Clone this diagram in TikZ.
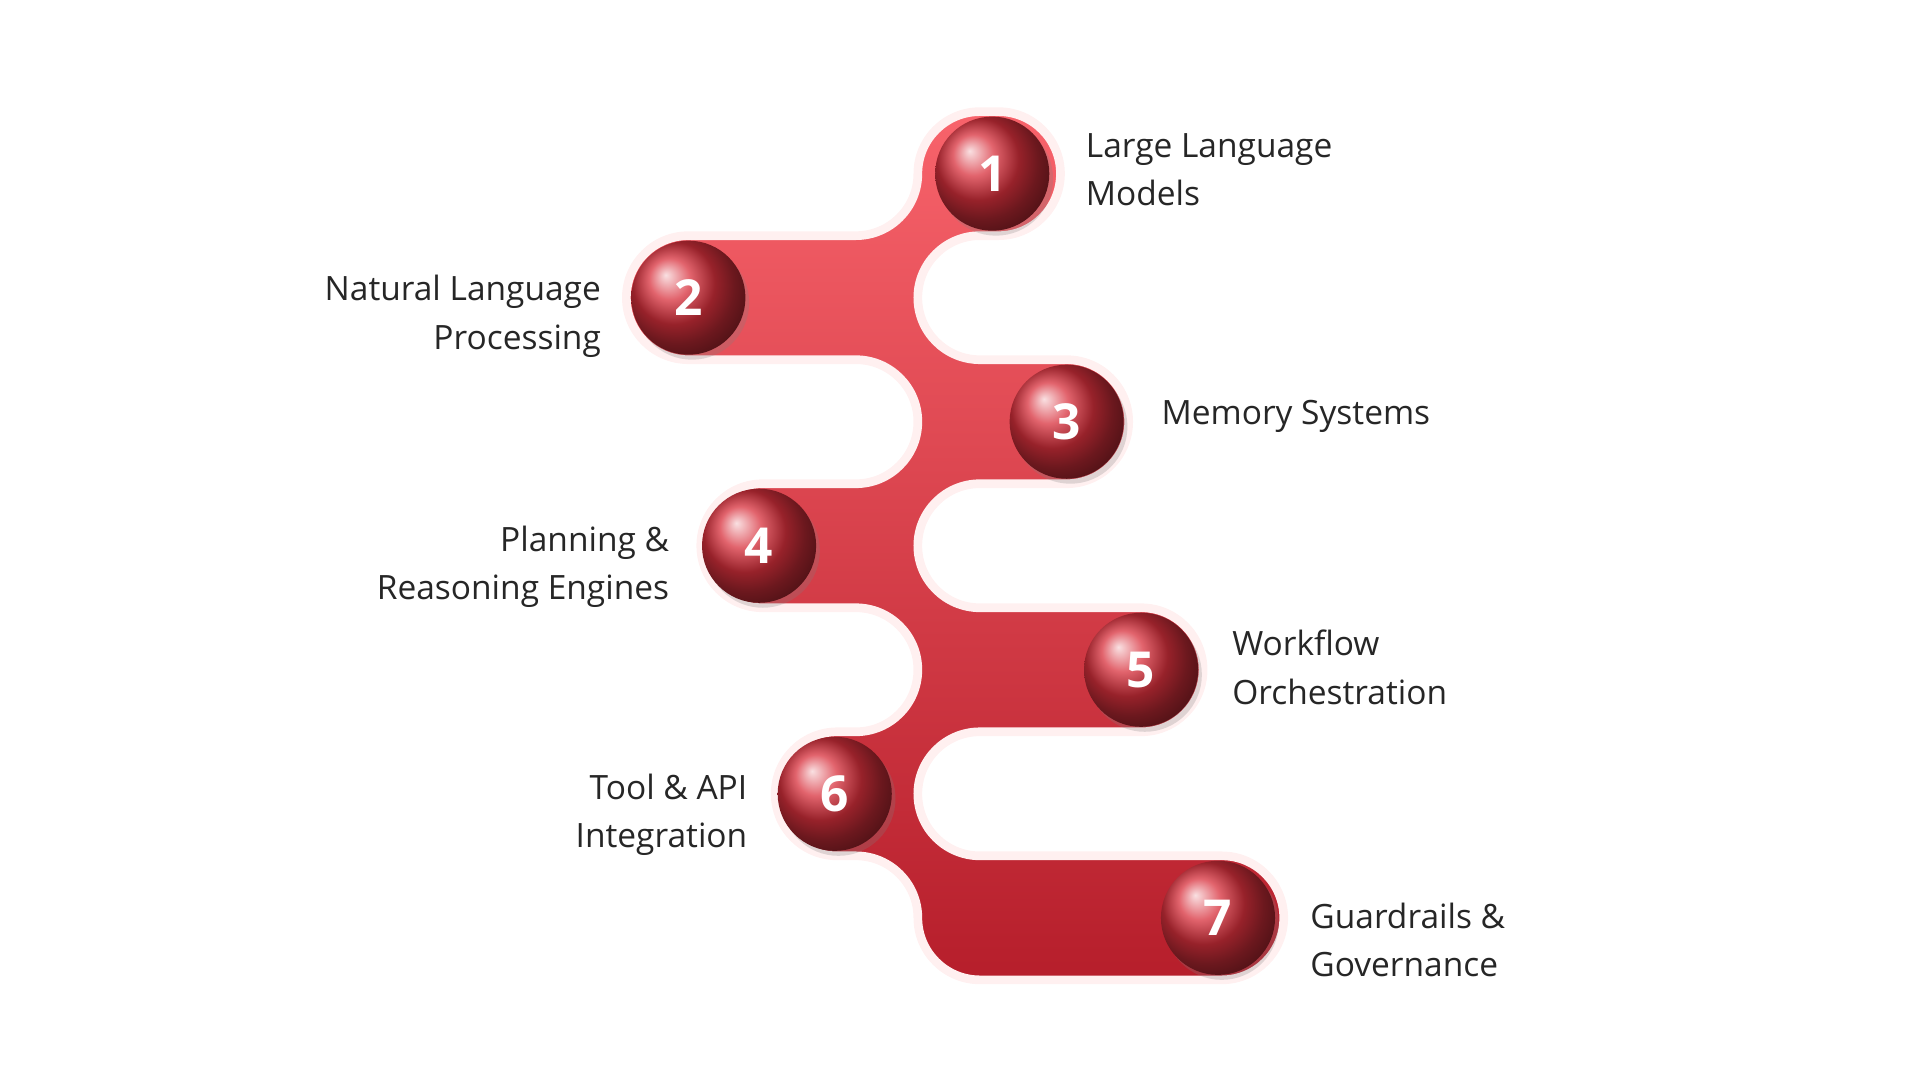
\documentclass[tikz,border=0pt]{standalone}
\usepackage{fontspec}
\setmainfont{Open Sans}
\usetikzlibrary{positioning,shadows}
\definecolor{bandtop}{HTML}{F8636B}
\definecolor{bandbot}{HTML}{B61E2B}
\definecolor{ballred}{HTML}{D8303C}
\tikzset{
  ball/.style={circle,minimum size=92pt,inner sep=0pt,ball color=ballred,text=white,
    font=\fontsize{40}{40}\selectfont\bfseries,drop shadow={opacity=0.25,shadow xshift=3pt,shadow yshift=-4pt}},
  rlab/.style={anchor=west,align=left,font=\fontsize{27}{39}\selectfont,text=black!85},
  llab/.style={anchor=east,align=right,font=\fontsize{27}{39}\selectfont,text=black!85}
}
\begin{document}
\begin{tikzpicture}[x=1pt,y=-1pt]
\useasboundingbox (0,0) rectangle (1548,871);
% snake band
\path[draw=red!6,line width=7pt,top color=bandtop,bottom color=bandbot]
  (790,90) arc[start angle=-90,end angle=-180,radius=50]
  arc[start angle=0,end angle=90,radius=50] -- (555,190)
  arc[start angle=270,end angle=90,radius=50] -- (690,290)
  arc[start angle=-90,end angle=90,radius=50] -- (615,390)
  arc[start angle=270,end angle=90,radius=50] -- (690,490)
  arc[start angle=-90,end angle=90,radius=50] -- (675,590)
  arc[start angle=270,end angle=90,radius=50] -- (690,690)
  arc[start angle=-90,end angle=0,radius=50]
  arc[start angle=180,end angle=90,radius=50] -- (985,790)
  arc[start angle=90,end angle=-90,radius=50] -- (790,690)
  arc[start angle=90,end angle=270,radius=50] -- (920,590)
  arc[start angle=90,end angle=-90,radius=50] -- (790,490)
  arc[start angle=90,end angle=270,radius=50] -- (860,390)
  arc[start angle=90,end angle=-90,radius=50] -- (790,290)
  arc[start angle=90,end angle=270,radius=50] -- (805,190)
  arc[start angle=90,end angle=-90,radius=50] -- cycle;
% steps
\node[ball] (s1) at (800,140) {1};
\node[ball] (s2) at (555,240) {2};
\node[ball] (s3) at (860,340) {3};
\node[ball] (s4) at (612,440) {4};
\node[ball] (s5) at (920,540) {5};
\node[ball] (s6) at (673,640) {6};
\node[ball] (s7) at (982,740) {7};
% labels
\node[rlab] (l1) at (872,137) {Large Language\\Models};
\node[llab] (l2) at (488,255) {Natural Language\\Processing};
\node[rlab] (l3) at (933,336) {Memory Systems};
\node[llab] (l4) at (543,457) {Planning \&\\Reasoning Engines};
\node[rlab] (l5) at (990,538) {Workflow\\Orchestration};
\node[llab] (l6) at (606,657) {Tool \& API\\Integration};
\node[rlab] (l7) at (1053,758) {Guardrails \&\\Governance};
\end{tikzpicture}
\end{document}
